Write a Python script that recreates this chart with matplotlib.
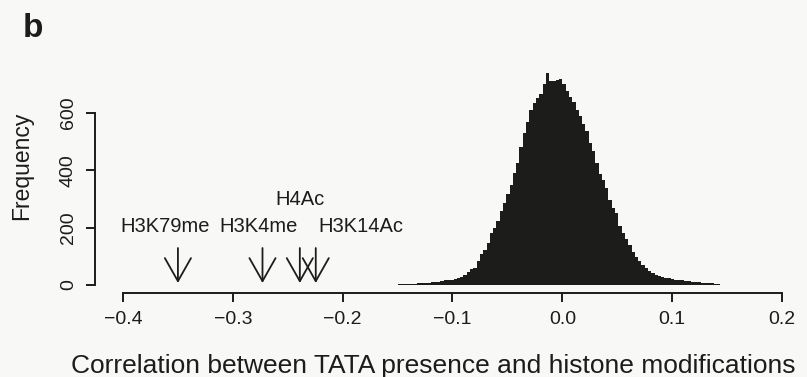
import numpy as np
import matplotlib
matplotlib.use("Agg")
import matplotlib.pyplot as plt

plt.rcParams['font.family'] = ['Liberation Sans', 'DejaVu Sans']

# ---- data ----
bin_start = -0.150
bin_width = 0.003
counts = [2, 3, 3, 4, 4, 5, 6, 6, 7, 8, 9, 10, 12, 14, 16,
          19, 18, 22, 25, 28, 36, 44, 55, 60, 82, 108, 122, 148, 180, 198,
          225, 258, 285, 318, 350, 390, 425, 480, 530, 570, 612, 635, 652, 668, 700,
          738, 712, 710, 715, 720, 700, 678, 656, 640, 612, 588, 560, 536, 495, 466,
          424, 388, 365, 340, 295, 270, 250, 205, 182, 160, 140, 115, 98, 82, 70,
          58, 48, 42, 36, 32, 29, 26, 24, 22, 19, 17, 16, 15, 13, 12,
          10, 9, 8, 7, 7, 6, 5, 4]

mod_names = ["H3K79me", "H3K4me", "H4Ac", "H3K14Ac"]
mod_corr = [-0.350, -0.273, -0.239, -0.2245]
label_x = [-0.3618, -0.2764, -0.239, -0.1836]
label_y = [185, 185, 279, 185]
arrow_top = 129
arrow_tip = 7

xticks = [-0.4, -0.3, -0.2, -0.1, 0.0, 0.1, 0.2]
yticks = [0, 200, 400, 600]

xlabel = "Correlation between TATA presence and histone modifications"
ylabel = "Frequency"
panel = "b"

# ---- style ----
bg = '#f8f8f6'
ink = '#1c1c1a'
W, H = 807, 377

fig = plt.figure(figsize=(W / 100, H / 100), dpi=100, facecolor=bg)
ax = fig.add_axes([95 / W, 84 / H, 705 / W, 233 / H])
ax.set_facecolor(bg)

edges = bin_start + bin_width * np.arange(len(counts) + 1)
ax.stairs(counts, edges, fill=True, color=ink, baseline=0)

ax.set_xlim(-0.4255, 0.2164)
ax.set_ylim(-27.9, 785)

for s in ['top', 'right']:
    ax.spines[s].set_visible(False)
ax.spines['left'].set_bounds(0, 600)
ax.spines['bottom'].set_bounds(-0.4, 0.2)
for s in ['left', 'bottom']:
    ax.spines[s].set_linewidth(1.4)
    ax.spines[s].set_color(ink)

ax.set_xticks(xticks)
ax.set_xticklabels([f"{v:.1f}".replace('-', '\u2212') for v in xticks])
ax.set_yticks(yticks)
ax.set_yticklabels([str(v) for v in yticks], rotation=90, va='center')
ax.tick_params(axis='both', length=6.5, width=1.4, color=ink, labelcolor=ink,
               labelsize=14, pad=6.5)

for name, xc, lx, ly in zip(mod_names, mod_corr, label_x, label_y):
    ax.text(lx, ly, name, ha='center', va='baseline', fontsize=14.5, color=ink)
    ax.annotate('', xy=(xc, arrow_tip), xytext=(xc, arrow_top),
                arrowprops=dict(arrowstyle='->,head_length=0.83,head_width=0.47',
                                lw=1.3, color=ink, shrinkA=0, shrinkB=0,
                                mutation_scale=20))

fig.text(433 / W, 1 - 373 / H, xlabel, ha='center', va='baseline',
         fontsize=19, color=ink)
fig.text(22 / W, 1 - 166 / H, ylabel, ha='center', va='center', rotation=90,
         fontsize=16.5, color=ink)
fig.text(23 / W, 1 - 37 / H, panel, ha='left', va='baseline', fontsize=24,
         fontweight='bold', color=ink)

fig.savefig("out.png", dpi=100, facecolor=bg)
